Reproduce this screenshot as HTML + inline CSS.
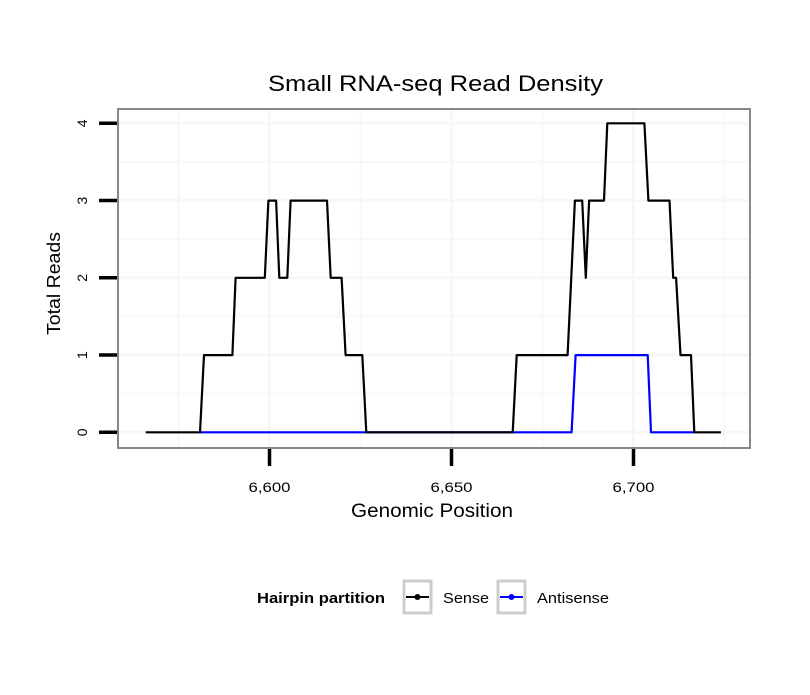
<!DOCTYPE html>
<html><head><meta charset="utf-8"><style>
body{margin:0;background:#fff;font-family:"Liberation Sans",sans-serif}
svg text{font-family:"Liberation Sans",sans-serif}
</style></head><body>
<svg id="c" width="810" height="690" xmlns="http://www.w3.org/2000/svg">
<rect width="810" height="690" fill="#fff"/>
<text x="268" y="91" font-size="22" textLength="335" lengthAdjust="spacingAndGlyphs">Small RNA-seq Read Density</text>
<g id="grid"></g><g id="series"></g><g id="axes"></g>
<text x="351" y="517" font-size="19" textLength="162" lengthAdjust="spacingAndGlyphs">Genomic Position</text>
<text transform="translate(60,335) rotate(-90)" font-size="18" textLength="103" lengthAdjust="spacingAndGlyphs">Total Reads</text>
<g>
<text x="257" y="603" font-size="15" font-weight="bold" textLength="128" lengthAdjust="spacingAndGlyphs">Hairpin partition</text>
<g>
<rect x="404" y="581" width="27" height="32" fill="#fff" stroke="#ccc" stroke-width="3"/>
<line x1="406" y1="597" x2="429" y2="597" stroke="#000" stroke-width="2"/><circle cx="417.5" cy="597" r="3" fill="#000"/>
<text x="443" y="603" font-size="15" textLength="46" lengthAdjust="spacingAndGlyphs">Sense</text></g>
<g>
<rect x="498" y="581" width="27" height="32" fill="#fff" stroke="#ccc" stroke-width="3"/>
<line x1="500" y1="597" x2="523" y2="597" stroke="#00f" stroke-width="2"/><circle cx="511.5" cy="597" r="3" fill="#00f"/>
<text x="537" y="603" font-size="15" textLength="72" lengthAdjust="spacingAndGlyphs">Antisense</text></g>
</g>
</svg>
<script>
const xTicks=[6600,6650,6700];
const xTickLabels=["6,600","6,650","6,700"];
const yTicks=[0,1,2,3,4];
const senseX=[6566.0,6580.9,6582.0,6589.8,6590.7,6598.7,6599.7,6601.8,6602.7,6604.9,6605.8,6615.8,6616.8,6619.8,6620.9,6625.5,6626.6,6666.8,6667.9,6681.9,6683.9,6685.9,6686.9,6687.8,6691.9,6692.8,6703.0,6704.1,6709.9,6710.9,6711.7,6712.9,6715.8,6716.7,6724.0];
const senseY=[0,0,1,1,2,2,3,3,2,2,3,3,2,2,1,1,0,0,1,1,3,3,2,3,3,4,4,3,3,2,2,1,1,0,0];
const antiX=[6580.9,6683.0,6684.1,6703.9,6704.8,6716.7];
const antiY=[0,0,1,1,0,0];
const L=118,R=750,T=109,B=448;
const sx=v=>269.5+(v-6600)*3.64;
const sy=v=>432.3-v*77.25;
const NS="http://www.w3.org/2000/svg";
function mk(t,a,p){const e=document.createElementNS(NS,t);for(const k in a)e.setAttribute(k,a[k]);p.appendChild(e);return e;}
const grid=document.getElementById('grid'),ser=document.getElementById('series'),ax=document.getElementById('axes');
mk('rect',{x:L,y:T,width:R-L,height:B-T,fill:'#fff'},grid);
for(let v=6575;v<=6725;v+=25){const l=mk('line',{x1:sx(v),x2:sx(v),y1:T,y2:B,stroke:'#f7f7f7','stroke-width':v%50==0?3:2},grid);

}
for(let v=0;v<=4;v+=0.5){const l=mk('line',{x1:L,x2:R,y1:sy(v),y2:sy(v),stroke:'#f7f7f7','stroke-width':v%1==0?3:2},grid);

}
function path(xs,ys,col,name){const d=xs.map((x,i)=>(i?'L':'M')+sx(x).toFixed(1)+','+sy(ys[i]).toFixed(1)).join('');
const p=mk('path',{d:d,fill:'none',stroke:col,'stroke-width':2.2,'stroke-linejoin':'round'},ser);

}
path(antiX,antiY,'#00f','antisense-line');
path(senseX,senseY,'#000','sense-line');
const fr=mk('rect',{x:L,y:T,width:R-L,height:B-T,fill:'none',stroke:'#888','stroke-width':2},ax);


xTicks.forEach((v,i)=>{const t=mk('line',{x1:sx(v),x2:sx(v),y1:B+1,y2:466,stroke:'#000','stroke-width':3.5},ax);


const tx=mk('text',{x:sx(v)-21,y:492,'font-size':14,textLength:42,lengthAdjust:'spacingAndGlyphs'},ax);tx.textContent=xTickLabels[i];

});
yTicks.forEach(v=>{const t=mk('line',{x1:99,x2:L-1,y1:sy(v),y2:sy(v),stroke:'#000','stroke-width':3.5},ax);


const tx=mk('text',{transform:`translate(87,${sy(v)}) rotate(-90)`,'text-anchor':'middle','font-size':14},ax);tx.textContent=v;

});
</script>
</body></html>
